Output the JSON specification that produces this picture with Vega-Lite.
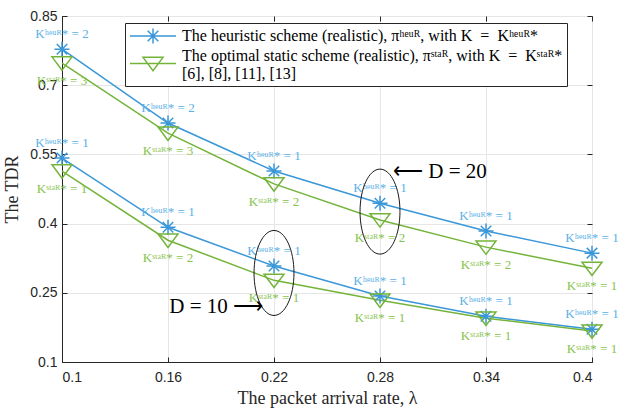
{
  "$schema": "https://vega.github.io/schema/vega-lite/v6.json",
  "width": 530,
  "height": 346,
  "autosize": "none",
  "padding": {"left": 62, "top": 16, "right": 29, "bottom": 48},
  "background": "white",
  "config": {
    "view": {"stroke": "#262626", "strokeWidth": 1},
    "axis": {
      "labelFont": "Liberation Sans",
      "labelFontSize": 14,
      "labelColor": "#262626",
      "tickColor": "#262626",
      "domainColor": "#262626",
      "tickSize": -5,
      "gridColor": "#e6e6e6",
      "titleFont": "Liberation Serif",
      "titleFontSize": 18,
      "titleFontWeight": "normal",
      "titleColor": "#262626"
    }
  },
  "datasets": {
    "curves": [
      {"lambda": 0.1, "tdr": 0.778, "scheme": "heuristic", "D": "20", "label": "Kʰᵉᵘᴿ* = 2"},
      {"lambda": 0.16, "tdr": 0.618, "scheme": "heuristic", "D": "20", "label": "Kʰᵉᵘᴿ* = 2"},
      {"lambda": 0.22, "tdr": 0.514, "scheme": "heuristic", "D": "20", "label": "Kʰᵉᵘᴿ* = 1"},
      {"lambda": 0.28, "tdr": 0.444, "scheme": "heuristic", "D": "20", "label": "Kʰᵉᵘᴿ* = 1"},
      {"lambda": 0.34, "tdr": 0.384, "scheme": "heuristic", "D": "20", "label": "Kʰᵉᵘᴿ* = 1"},
      {"lambda": 0.4, "tdr": 0.336, "scheme": "heuristic", "D": "20", "label": "Kʰᵉᵘᴿ* = 1"},
      {"lambda": 0.1, "tdr": 0.748, "scheme": "static", "D": "20", "label": "Kˢᵗᵃᴿ* = 3"},
      {"lambda": 0.16, "tdr": 0.596, "scheme": "static", "D": "20", "label": "Kˢᵗᵃᴿ* = 3"},
      {"lambda": 0.22, "tdr": 0.486, "scheme": "static", "D": "20", "label": "Kˢᵗᵃᴿ* = 2"},
      {"lambda": 0.28, "tdr": 0.408, "scheme": "static", "D": "20", "label": "Kˢᵗᵃᴿ* = 2"},
      {"lambda": 0.34, "tdr": 0.349, "scheme": "static", "D": "20", "label": "Kˢᵗᵃᴿ* = 2"},
      {"lambda": 0.4, "tdr": 0.303, "scheme": "static", "D": "20", "label": "Kˢᵗᵃᴿ* = 1"},
      {"lambda": 0.1, "tdr": 0.542, "scheme": "heuristic", "D": "10", "label": "Kʰᵉᵘᴿ* = 1"},
      {"lambda": 0.16, "tdr": 0.392, "scheme": "heuristic", "D": "10", "label": "Kʰᵉᵘᴿ* = 1"},
      {"lambda": 0.22, "tdr": 0.308, "scheme": "heuristic", "D": "10", "label": "Kʰᵉᵘᴿ* = 1"},
      {"lambda": 0.28, "tdr": 0.243, "scheme": "heuristic", "D": "10", "label": "Kʰᵉᵘᴿ* = 1"},
      {"lambda": 0.34, "tdr": 0.199, "scheme": "heuristic", "D": "10", "label": "Kʰᵉᵘᴿ* = 1"},
      {"lambda": 0.4, "tdr": 0.171, "scheme": "heuristic", "D": "10", "label": "Kʰᵉᵘᴿ* = 1"},
      {"lambda": 0.1, "tdr": 0.514, "scheme": "static", "D": "10", "label": "Kˢᵗᵃᴿ* = 1"},
      {"lambda": 0.16, "tdr": 0.364, "scheme": "static", "D": "10", "label": "Kˢᵗᵃᴿ* = 2"},
      {"lambda": 0.22, "tdr": 0.277, "scheme": "static", "D": "10", "label": "Kˢᵗᵃᴿ* = 1"},
      {"lambda": 0.28, "tdr": 0.234, "scheme": "static", "D": "10", "label": "Kˢᵗᵃᴿ* = 1"},
      {"lambda": 0.34, "tdr": 0.195, "scheme": "static", "D": "10", "label": "Kˢᵗᵃᴿ* = 1"},
      {"lambda": 0.4, "tdr": 0.167, "scheme": "static", "D": "10", "label": "Kˢᵗᵃᴿ* = 1"}
    ],
    "ellipses": [
      {"lambda": 0.28, "tdr": 0.426, "D": "20"},
      {"lambda": 0.22, "tdr": 0.293, "D": "10"}
    ],
    "notes": [
      {"lambda": 0.28, "tdr": 0.512, "text": "⟵ D = 20", "side": "right"},
      {"lambda": 0.22, "tdr": 0.219, "text": "D = 10 ⟶", "side": "left"}
    ]
  },
  "resolve": {"axis": {"x": "independent", "y": "independent"}},
  "layer": [
    {
      "data": {"name": "curves"},
      "mark": {"type": "line", "strokeWidth": 1.5},
      "encoding": {
        "x": {
          "field": "lambda", "type": "quantitative",
          "scale": {"domain": [0.1, 0.4], "nice": false, "zero": false},
          "axis": {
            "orient": "bottom", "values": [0.1, 0.16, 0.22, 0.28, 0.34, 0.4], "format": ".2~f",
            "grid": true, "labelPadding": 13, "title": "The packet arrival rate, λ", "titlePadding": 5
          }
        },
        "y": {
          "field": "tdr", "type": "quantitative",
          "scale": {"domain": [0.1, 0.85], "nice": false, "zero": false},
          "axis": {
            "orient": "left", "values": [0.1, 0.25, 0.4, 0.55, 0.7, 0.85], "format": ".2~f",
            "grid": true, "labelPadding": 10, "title": "The TDR", "titlePadding": 8
          }
        },
        "color": {
          "field": "scheme", "type": "nominal",
          "scale": {"domain": ["heuristic", "static"], "range": ["#3a97d8", "#74b43a"]},
          "legend": {
            "orient": "none", "legendX": 63, "legendY": 7, "title": null,
            "strokeColor": "#262626", "fillColor": "white", "padding": 4, "cornerRadius": 0,
            "labelFont": "Liberation Serif", "labelFontSize": 16, "labelColor": "black", "labelLimit": 0,
            "labelOffset": 35, "rowPadding": 0,
            "symbolSize": 256, "symbolStrokeWidth": 1.5, "symbolFillColor": "transparent",
            "labelExpr": "datum.value === 'heuristic' ? 'The heuristic scheme (realistic), πʰᵉᵘᴿ, with K\u2002=\u2002Kʰᵉᵘᴿ*' : ['The optimal static scheme (realistic), πˢᵗᵃᴿ, with K\u2002=\u2002Kˢᵗᵃᴿ*', '[6], [8], [11], [13]']",
            "encode": {
              "symbols": {
                "update": {
                  "shape": {"signal": "datum.value === 'heuristic' ? 'M-1,0H4.75M0.94,0H2.81M1.875,-0.94V0.94M1.21,-0.66L2.54,0.66M1.21,0.66L2.54,-0.66' : 'M-1,0.95H4.75M0.625,0.17L3.125,0.17L1.875,1.85Z'"},
                  "fill": {"value": "transparent"}
                }
              }
            }
          }
        },
        "detail": {"field": "D"}
      }
    },
    {
      "data": {"name": "curves"},
      "transform": [{"filter": "datum.scheme === 'heuristic'"}],
      "mark": {"type": "point", "shape": "M-1,0H1M0,-1V1M-0.7,-0.7L0.7,0.7M-0.7,0.7L0.7,-0.7", "size": 225, "filled": false, "strokeWidth": 1.5, "color": "#3a97d8", "opacity": 1},
      "encoding": {
        "x": {"field": "lambda", "type": "quantitative", "axis": null},
        "y": {"field": "tdr", "type": "quantitative", "axis": null}
      }
    },
    {
      "data": {"name": "curves"},
      "transform": [{"filter": "datum.scheme === 'static'"}],
      "mark": {"type": "point", "shape": "M-1,-0.62L1,-0.62L0,0.72Z", "size": 400, "filled": false, "strokeWidth": 1.5, "color": "#74b43a", "opacity": 1},
      "encoding": {
        "x": {"field": "lambda", "type": "quantitative", "axis": null},
        "y": {"field": "tdr", "type": "quantitative", "axis": null}
      }
    },
    {
      "data": {"name": "curves"},
      "transform": [{"filter": "datum.scheme === 'heuristic'"}],
      "mark": {"type": "text", "dy": -15, "font": "Liberation Serif", "fontSize": 13, "color": "#5ab0e6"},
      "encoding": {
        "x": {"field": "lambda", "type": "quantitative", "axis": null},
        "y": {"field": "tdr", "type": "quantitative", "axis": null},
        "text": {"field": "label"}
      }
    },
    {
      "data": {"name": "curves"},
      "transform": [{"filter": "datum.scheme === 'static'"}],
      "mark": {"type": "text", "dy": 18, "font": "Liberation Serif", "fontSize": 13, "color": "#86c34b"},
      "encoding": {
        "x": {"field": "lambda", "type": "quantitative", "axis": null},
        "y": {"field": "tdr", "type": "quantitative", "axis": null},
        "text": {"field": "label"}
      }
    },
    {
      "data": {"name": "ellipses"},
      "mark": {"type": "point", "shape": "M0,-1A0.47,1 0 1,1 0,1A0.47,1 0 1,1 0,-1Z", "size": 7225, "filled": false, "strokeWidth": 1, "color": "#1a1a1a", "opacity": 1},
      "encoding": {
        "x": {"field": "lambda", "type": "quantitative",
          "axis": {"orient": "top", "values": [0.1, 0.16, 0.22, 0.28, 0.34, 0.4], "labels": false, "title": null, "grid": false, "domain": false}},
        "y": {"field": "tdr", "type": "quantitative",
          "axis": {"orient": "right", "values": [0.1, 0.25, 0.4, 0.55, 0.7, 0.85], "labels": false, "title": null, "grid": false, "domain": false}}
      }
    },
    {
      "data": {"name": "notes"},
      "transform": [{"filter": "datum.side === 'right'"}],
      "mark": {"type": "text", "align": "left", "dx": 13, "font": "Liberation Serif, DejaVu Sans", "fontWeight": 200, "fontSize": 21, "color": "black"},
      "encoding": {
        "x": {"field": "lambda", "type": "quantitative", "axis": null},
        "y": {"field": "tdr", "type": "quantitative", "axis": null},
        "text": {"field": "text"}
      }
    },
    {
      "data": {"name": "notes"},
      "transform": [{"filter": "datum.side === 'left'"}],
      "mark": {"type": "text", "align": "right", "dx": -11, "font": "Liberation Serif, DejaVu Sans", "fontWeight": 200, "fontSize": 21, "color": "black"},
      "encoding": {
        "x": {"field": "lambda", "type": "quantitative", "axis": null},
        "y": {"field": "tdr", "type": "quantitative", "axis": null},
        "text": {"field": "text"}
      }
    }
  ]
}
